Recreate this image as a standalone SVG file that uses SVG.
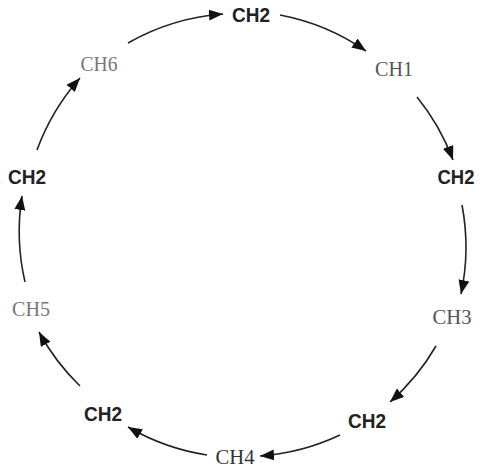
<svg xmlns="http://www.w3.org/2000/svg" width="480" height="472" viewBox="0 0 480 472">
<style>
.b{font-family:"Liberation Sans",Arial,sans-serif;font-weight:bold;font-size:21px;fill:#222;text-anchor:middle}
.s{font-family:"Liberation Serif","Times New Roman",serif;font-size:20px;fill:#666;text-anchor:middle}
.c{fill:none;stroke:#222;stroke-width:1.6;marker-end:url(#ah)}
</style>
<defs>
<marker id="ah" markerUnits="userSpaceOnUse" markerWidth="15" markerHeight="12" refX="14" refY="5.5" orient="auto">
<path d="M0,0 L14,5.5 L0,11 z" fill="#111"/>
</marker>
</defs>
<rect width="480" height="472" fill="#fff"/>
<g id="connectors">
<path class="c" d="M128 43 A225 225 0 0 1 223 14"/>
<path class="c" d="M280 15 A225 225 0 0 1 366 51"/>
<path class="c" d="M417 97 A225 225 0 0 1 453 160"/>
<path class="c" d="M462 205 A225 225 0 0 1 461 294"/>
<path class="c" d="M436 346 A225 225 0 0 1 390 402"/>
<path class="c" d="M340 435 A225 225 0 0 1 260 456"/>
<path class="c" d="M207 455 A225 225 0 0 1 128 427"/>
<path class="c" d="M80 386 A225 225 0 0 1 39 332"/>
<path class="c" d="M25 282 A225 225 0 0 1 22 196"/>
<path class="c" d="M37 150 A225 225 0 0 1 80 78"/>
</g>
<g id="n-ch2-top"><text class="b" x="251" y="22" textLength="38" lengthAdjust="spacingAndGlyphs">CH2</text></g>
<g id="n-ch1"><text class="s" x="394" y="76" textLength="38" lengthAdjust="spacingAndGlyphs" style="fill:#555">CH1</text></g>
<g id="n-ch2-right"><text class="b" x="456" y="184" textLength="37" lengthAdjust="spacingAndGlyphs">CH2</text></g>
<g id="n-ch3"><text class="s" x="452" y="324" textLength="39" lengthAdjust="spacingAndGlyphs" style="fill:#555">CH3</text></g>
<g id="n-ch2-br"><text class="b" x="367" y="428" textLength="38" lengthAdjust="spacingAndGlyphs">CH2</text></g>
<g id="n-ch4"><text class="s" x="235" y="464" textLength="39" lengthAdjust="spacingAndGlyphs" style="fill:#333">CH4</text></g>
<g id="n-ch2-bl"><text class="b" x="103" y="421" textLength="38" lengthAdjust="spacingAndGlyphs">CH2</text></g>
<g id="n-ch5"><text class="s" x="31" y="316" textLength="38" lengthAdjust="spacingAndGlyphs" style="fill:#777">CH5</text></g>
<g id="n-ch2-left"><text class="b" x="27" y="184" textLength="38" lengthAdjust="spacingAndGlyphs">CH2</text></g>
<g id="n-ch6"><text class="s" x="99" y="71" textLength="37" lengthAdjust="spacingAndGlyphs" style="fill:#777">CH6</text></g>
</svg>
